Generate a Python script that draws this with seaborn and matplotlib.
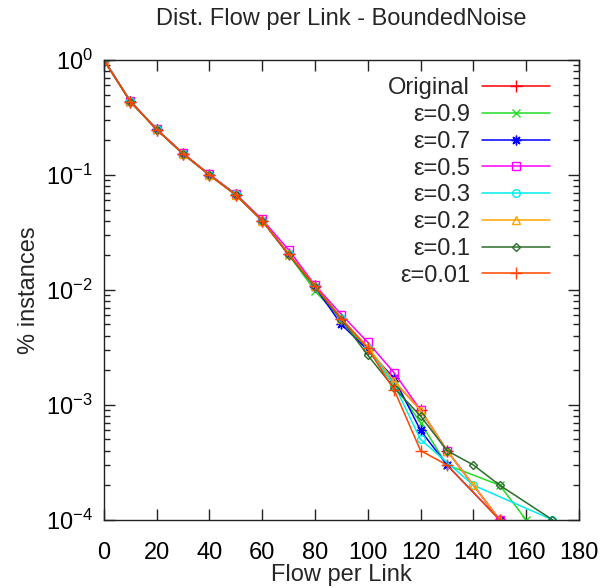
import numpy as np
import pandas as pd
import matplotlib
matplotlib.use("Agg")
import matplotlib.pyplot as plt
import seaborn as sns

# Flow per link (bin starts)
flow = [0, 10, 20, 30, 40, 50, 60, 70, 80, 90, 100, 110, 120, 130, 140, 150, 160, 170]

# % instances per series (None = no point, log of zero)
original = [1.0, 0.435, 0.248, 0.153, 0.100, 0.067, 0.040, 0.0205, 0.0108, 0.0056, 0.0031, 0.0016,
            0.0009, 0.0004, None, 0.0001, None, None]
eps_09 = [1.0, 0.435, 0.248, 0.153, 0.100, 0.067, 0.040, 0.0203, 0.0098, 0.0055, 0.0030, 0.0015,
          0.0007, 0.0003, None, 0.0002, 0.0001, None]
eps_07 = [1.0, 0.437, 0.249, 0.153, 0.100, 0.068, 0.040, 0.0205, 0.0106, 0.0050, 0.0030, 0.0017,
          0.0006, 0.0003, None, 0.0001, None, None]
eps_05 = [1.0, 0.437, 0.250, 0.154, 0.101, 0.068, 0.041, 0.0223, 0.0110, 0.0061, 0.0035, 0.0019,
          0.0009, 0.0004, None, 0.0001, None, None]
eps_03 = [1.0, 0.436, 0.249, 0.153, 0.100, 0.068, 0.040, 0.0206, 0.0107, 0.0057, 0.0031, 0.0015,
          0.0005, None, 0.0002, None, None, 0.0001]
eps_02 = [1.0, 0.436, 0.249, 0.153, 0.100, 0.067, 0.040, 0.0206, 0.0108, 0.0056, 0.0032, 0.0016,
          0.0009, 0.0004, 0.0002, 0.0001, None, None]
eps_01 = [1.0, 0.435, 0.248, 0.152, 0.100, 0.067, 0.040, 0.0201, 0.0106, 0.0055, 0.0027, 0.0014,
          0.0008, 0.0004, 0.0003, 0.0002, None, 0.0001]
eps_001 = [1.0, 0.435, 0.248, 0.153, 0.100, 0.067, 0.040, 0.0204, 0.0108, 0.0056, 0.0031, 0.00135,
           0.0004, 0.0003, None, 0.0001, None, None]

labels = ["Original", "ε=0.9", "ε=0.7", "ε=0.5", "ε=0.3", "ε=0.2", "ε=0.1", "ε=0.01"]
series = [original, eps_09, eps_07, eps_05, eps_03, eps_02, eps_01, eps_001]
colors = ["#ff0000", "#22dd22", "#0000ff", "#ff00ff", "#00eeee", "#ffa500", "#2a6e2a", "#ff4500"]
markers = ["+", "x", (8, 2, 0), "s", "o", "^", "D", "+"]
msizes = [8, 6, 7, 5.5, 5.5, 5.5, 4, 8]

sns.set_style("ticks")
plt.rcParams["font.family"] = ["Liberation Sans", "DejaVu Sans"]
plt.rcParams["axes.unicode_minus"] = False
plt.rcParams["mathtext.default"] = "regular"

fig, ax = plt.subplots(figsize=(6.08, 5.88), dpi=100)
fig.subplots_adjust(left=0.171, right=0.952, top=0.898, bottom=0.116)

for lab, vals, col, mk, ms in zip(labels, series, colors, markers, msizes):
    df = pd.DataFrame({"flow": flow, "pct": [np.nan if v is None else v for v in vals]})
    sns.lineplot(data=df, x="flow", y="pct", ax=ax, color=col, marker=mk, markersize=ms,
                 mec=col, mfc="none", mew=1, linewidth=1.1, label=lab)

ax.set_yscale("log")
ax.set_xlim(0, 180)
ax.set_ylim(1e-4, 1)
ax.set_xticks(np.arange(0, 181, 20))
ax.set_yticks([1e-4, 1e-3, 1e-2, 1e-1, 1])
ax.set_yticklabels(["$10^{-4}$", "$10^{-3}$", "$10^{-2}$", "$10^{-1}$", "$10^{0}$"])

ax.tick_params(axis="both", which="both", direction="in", top=True, right=True,
               labelsize=17, colors="#222222", labelcolor="black")
ax.tick_params(axis="both", which="major", length=8, width=1)
ax.tick_params(axis="y", which="minor", length=4, width=1)
ax.tick_params(axis="x", pad=16)
ax.tick_params(axis="y", pad=8)
for sp in ax.spines.values():
    sp.set_color("#222222")
    sp.set_linewidth(1)

ax.set_title("Dist. Flow per Link - BoundedNoise", fontsize=17, pad=25)
ax.set_xlabel("Flow per Link", fontsize=17, labelpad=0)
ax.set_ylabel("% instances", fontsize=17, labelpad=4)

leg = ax.legend(loc="upper right", bbox_to_anchor=(0.94, 0.962), frameon=False, fontsize=17,
                markerfirst=False, handlelength=2.9, handletextpad=0.5, labelspacing=0.2,
                borderpad=0, borderaxespad=0)

fig.savefig("out.png", dpi=100)
